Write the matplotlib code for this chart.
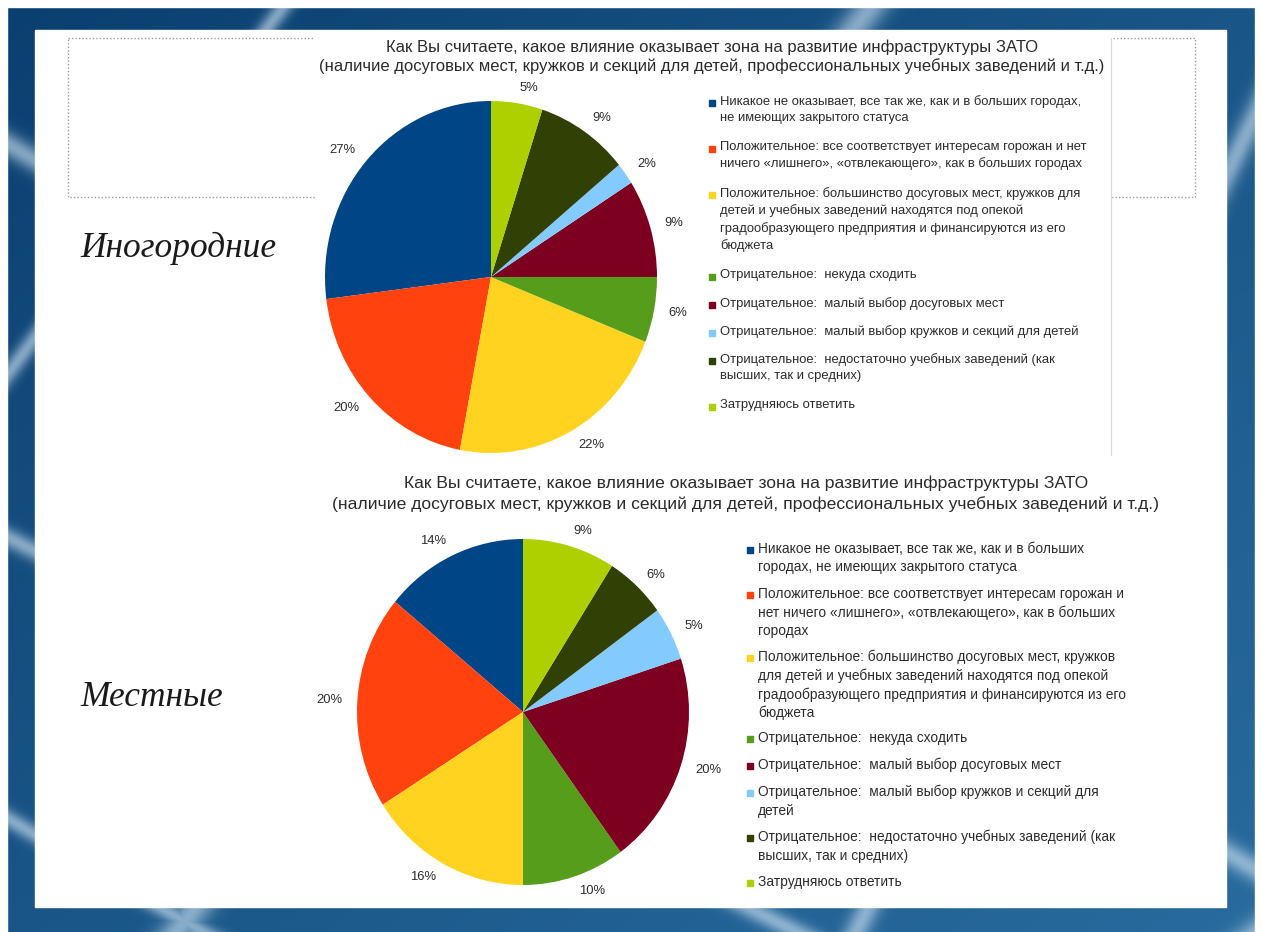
import numpy as np
import matplotlib
matplotlib.use("Agg")
import matplotlib.pyplot as plt
from matplotlib.patches import Rectangle

# --- data -------------------------------------------------------------
colors = ["#004586", "#FF420E", "#FFD320", "#579D1C",
          "#7E0021", "#83CAFF", "#314004", "#AECF00"]

# Иногородние (out-of-town respondents)
values_out = [27, 20, 22, 6, 9, 2, 9, 5]
# Местные (local respondents)
values_loc = [14, 20, 16, 10, 20, 5, 6, 9]

legend_out = [
    "Никакое не оказывает, все так же, как и в больших городах,\nне имеющих закрытого статуса",
    "Положительное: все соответствует интересам горожан и нет\nничего «лишнего», «отвлекающего», как в больших городах",
    "Положительное: большинство досуговых мест, кружков для\nдетей и учебных заведений находятся под опекой\n"
    "градообразующего предприятия и финансируются из его\nбюджета",
    "Отрицательное:  некуда сходить",
    "Отрицательное:  малый выбор досуговых мест",
    "Отрицательное:  малый выбор кружков и секций для детей",
    "Отрицательное:  недостаточно учебных заведений (как\nвысших, так и средних)",
    "Затрудняюсь ответить",
]
legend_loc = [
    "Никакое не оказывает, все так же, как и в больших\nгородах, не имеющих закрытого статуса",
    "Положительное: все соответствует интересам горожан и\nнет ничего «лишнего», «отвлекающего», как в больших\nгородах",
    "Положительное: большинство досуговых мест, кружков\nдля детей и учебных заведений находятся под опекой\n"
    "градообразующего предприятия и финансируются из его\nбюджета",
    "Отрицательное:  некуда сходить",
    "Отрицательное:  малый выбор досуговых мест",
    "Отрицательное:  малый выбор кружков и секций для\nдетей",
    "Отрицательное:  недостаточно учебных заведений (как\nвысших, так и средних)",
    "Затрудняюсь ответить",
]

title_text = ("Как Вы считаете, какое влияние оказывает зона на развитие инфраструктуры ЗАТО\n"
              "(наличие досуговых мест, кружков и секций для детей, профессиональных учебных заведений и т.д.)")
group_names = ["Иногородние", "Местные"]

# --- figure -----------------------------------------------------------
W, H = 1261, 932
fig = plt.figure(figsize=(W / 100, H / 100), dpi=100)
plt.rcParams['font.family'] = ['Liberation Sans', 'DejaVu Sans']
TXT = "#2b2b2b"


def px_axes(x0, y0, w, h):
    # axes placed by pixel box (top-left origin)
    return fig.add_axes([x0 / W, 1 - (y0 + h) / H, w / W, h / H])


# background slide (pixel coordinates, y down)
bg = fig.add_axes([0, 0, 1, 1])
bg.set_xlim(0, W)
bg.set_ylim(H, 0)
bg.axis("off")

yy, xx = np.mgrid[0:H, 0:W].astype(float)
t = 0.5 * xx / W + 0.5 * yy / H
c1 = np.array([0.04, 0.25, 0.44])
c2 = np.array([0.16, 0.42, 0.62])
img = c1 + (c2 - c1) * t[..., None]
light = np.zeros_like(t)
for kx, ky, c, w in [(0.8, 0.6, 230, 9), (0.8, 0.6, 700, 16), (0.5, -0.86, -120, 12),
                     (0.45, -0.9, -480, 10), (0.9, 0.44, 1180, 12), (0.6, 0.8, 1500, 14),
                     (-0.5, 0.86, 700, 9)]:
    d = xx * kx + yy * ky - c
    light = np.maximum(light, np.exp(-(d / w) ** 2))
img = img + (np.array([0.82, 0.9, 0.96]) - img) * (0.6 * light[..., None])
bg.imshow(np.clip(img, 0, 1), extent=(0, W, H, 0), aspect="auto", zorder=0)

# outer white frame
bg.add_patch(Rectangle((0, 0), W, 7, color="white", zorder=1))
bg.add_patch(Rectangle((0, 0), 7, H, color="white", zorder=1))
bg.add_patch(Rectangle((1255, 0), 6, H, color="white", zorder=1))

# slide page
bg.add_patch(Rectangle((35, 30), 1191, 877, color="white", zorder=2))
bg.add_patch(Rectangle((68, 38), 1127, 159, fill=False, ec="#9a9a9a",
                       lw=1.0, ls=(0, (1, 1.5)), zorder=3))
bg.add_patch(Rectangle((315, 31), 796, 424, color="white", zorder=4))
bg.plot([1111, 1111], [38, 455], color="#d8d8d8", lw=0.8, zorder=5)

# group captions
for name, y in zip(group_names, [248, 697]):
    bg.text(80, y, name, family="Liberation Serif", style="italic", fontsize=25.5,
            color="#1a1a1a", va="center", ha="left", zorder=6)

# chart titles
bg.text(712, 57, title_text, fontsize=12.0, color=TXT, ha="center", va="center",
        linespacing=1.22, zorder=6)
bg.text(746, 494, title_text, fontsize=12.6, color=TXT, ha="center", va="center",
        linespacing=1.42, zorder=6)


def draw_legend(labels, x, y0, fs, gap, ls):
    y = y0
    for lab, col in zip(labels, colors):
        bg.add_patch(Rectangle((x - 11, y - 3), 6, 6, color=col, zorder=6))
        bg.text(x, y - 8, lab, fontsize=fs, color=TXT, ha="left", va="top",
                linespacing=ls, zorder=6)
        y += lab.count("\n") * 18 + gap


draw_legend(legend_out, 720, 103, 9.35, 28, 1.45)
draw_legend(legend_loc, 758, 550, 9.9, 27, 1.37)


def draw_pie(values, box, fs):
    ax = px_axes(*box)
    ax.pie(values, colors=colors, startangle=90, counterclock=True,
           labels=[f"{v}%" for v in values], labeldistance=1.09,
           wedgeprops=dict(linewidth=0),
           textprops=dict(fontsize=fs, color=TXT))
    ax.set_aspect("auto")
    ax.set_xlim(-1, 1)
    ax.set_ylim(-1, 1)
    ax.axis("off")


draw_pie(values_out, (325, 101, 332, 352), 9.4)
draw_pie(values_loc, (357, 539, 332, 346), 9.4)

fig.savefig("out.png", dpi=100)
